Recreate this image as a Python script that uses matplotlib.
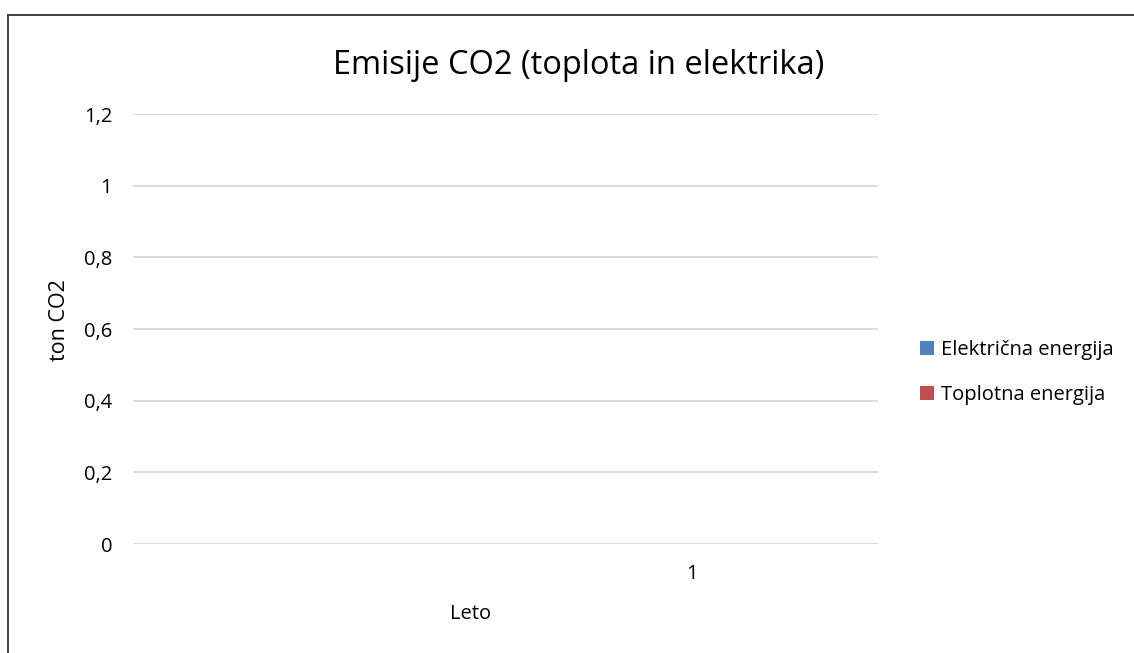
import matplotlib
matplotlib.use("Agg")
import matplotlib.pyplot as plt
from matplotlib.lines import Line2D

# Data
categories = ["", "1"]
elektricna = [0, 0]
toplotna = [0, 0]
series_names = ["Električna energija", "Toplotna energija"]
series_colors = ["#4f81bd", "#c0504d"]
y_ticks = [0, 0.2, 0.4, 0.6, 0.8, 1.0, 1.2]
y_tick_labels = ["0", "0,2", "0,4", "0,6", "0,8", "1", "1,2"]

plt.rcParams["font.family"] = ["Open Sans", "DejaVu Sans"]

W, H = 1134, 653
fig = plt.figure(figsize=(W / 100, H / 100), dpi=100)

# outer frame (left and top edges)
fig.add_artist(Line2D([8 / W, 8 / W], [0, 1 - 14.5 / H], color="#404040", lw=1.4))
fig.add_artist(Line2D([8 / W, 1], [1 - 14.5 / H, 1 - 14.5 / H], color="#404040", lw=1.4))

left, right, top, bottom = 133, 878, 114, 544
ax = fig.add_axes([left / W, 1 - bottom / H, (right - left) / W, (bottom - top) / H])

x = list(range(len(categories)))
b1 = ax.bar(x, elektricna, width=0.5, color=series_colors[0], label=series_names[0])
b2 = ax.bar(x, toplotna, width=0.5, bottom=elektricna, color=series_colors[1], label=series_names[1])

ax.set_xlim(-0.5, len(categories) - 0.5)
ax.set_ylim(0, 1.2)
ax.set_yticks(y_ticks)
ax.set_yticklabels(y_tick_labels)
ax.set_xticks(x)
ax.set_xticklabels(categories)
ax.grid(axis="y", color="#d9d9d9", lw=1.3)
ax.set_axisbelow(True)
for s in ax.spines.values():
    s.set_visible(False)
ax.tick_params(axis="y", length=0, pad=15, labelsize=14.5, labelcolor="#000000")
ax.tick_params(axis="x", length=0, pad=14.5, labelsize=14.5, labelcolor="#000000")

ax.set_xlabel("Leto", fontsize=14.5)
ax.xaxis.set_label_coords((471 - left) / (right - left), (bottom - 604) / (bottom - top))
ax.set_ylabel("ton CO2", fontsize=15.5)
ax.yaxis.set_label_coords((70 - left) / (right - left), (bottom - 320) / (bottom - top))

fig.text(579 / W, 1 - 65 / H, "Emisije CO2 (toplota in elektrika)", fontsize=23.5,
         ha="center", va="center")

ax.legend(handles=[b1, b2], labels=series_names, loc="center left",
          bbox_to_anchor=(920 / W, 1 - 372.5 / H), bbox_transform=fig.transFigure,
          frameon=False, fontsize=14.5, handlelength=0.68, handleheight=0.68,
          handletextpad=0.35, labelspacing=1.25, borderaxespad=0, borderpad=0)

fig.savefig("out.png", dpi=100)
